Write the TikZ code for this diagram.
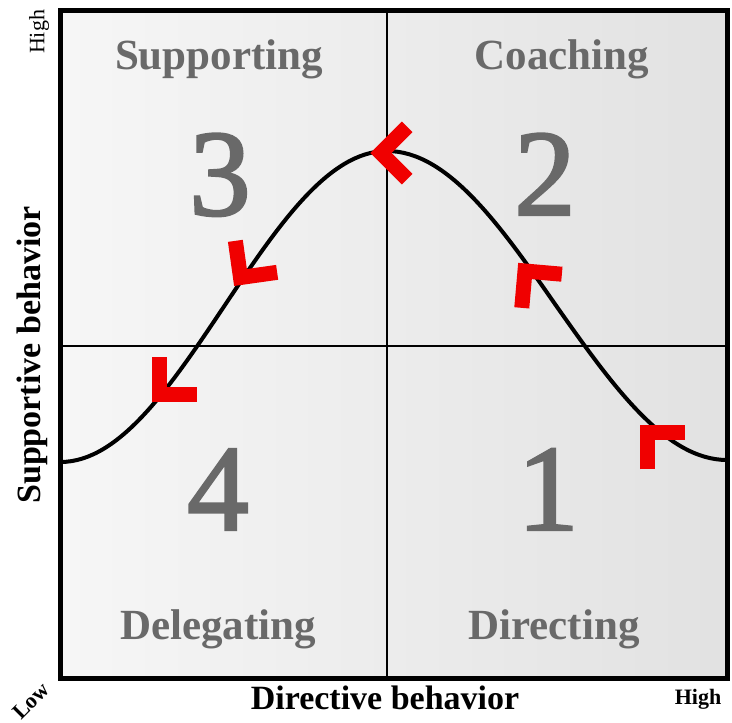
\documentclass[tikz,border=0pt]{standalone}
\usepackage{fontspec}
\setmainfont{Liberation Serif}
\newfontfamily\numfont[FakeBold=2]{Liberation Serif}
\usepackage{xcolor}
\usepackage{tikz}
\usetikzlibrary{positioning}
\definecolor{grisnum}{RGB}{105,105,105}
\definecolor{rojo}{RGB}{240,0,0}

\tikzset{
  cuadrante/.style={text=grisnum, font=\fontsize{43}{43}\selectfont\bfseries, anchor=base},
  numero/.style={text=grisnum, font=\fontsize{123}{123}\numfont, anchor=base},
  eje/.style={font=\fontsize{34}{34}\selectfont\bfseries},
  extremo/.style={font=\fontsize{22}{22}\selectfont},
  flecha/.style={rojo, line width=15pt, line join=miter},
  chevron/.pic={\draw[flecha] (135:37) -- (0,0) -- (-135:37);}
}

\begin{document}
\begin{tikzpicture}[x=1pt, y=1pt]
  \useasboundingbox (0,0) rectangle (732,723);

  % Esquinas y centro del cuadro
  \coordinate (so) at (60.5,44.5);
  \coordinate (ne) at (727,712.5);
  \coordinate (centro) at (387,377);

  % Fondo y ejes interiores
  \shade[left color=gray!7, right color=gray!23] (so) rectangle (ne);
  \draw[line width=2pt] (centro |- so) -- (centro |- ne);
  \draw[line width=2pt] (centro -| so) -- (centro -| ne);

  % Curva (puntos de inflexion y cima)
  \coordinate (izq) at (60.5,261);
  \coordinate (inf1) at (224,416.5);
  \coordinate (cima) at (387,572);
  \coordinate (inf2) at (556,417.5);
  \coordinate (der) at (727,263);
  \draw[line width=4pt] (izq) cos (inf1) sin (cima) cos (inf2) sin (der);

  % Marco
  \draw[line width=5pt] (so) rectangle (ne);

  % Flechas rojas (de 1 hacia 4)
  \pic[rotate=135] at (647.5,290.5) {chevron};
  \pic[rotate=130] at (525,452) {chevron};
  \pic[rotate=180] at (381,570) {chevron};
  \pic[rotate=233] at (240.5,445.5) {chevron};
  \pic[rotate=225] at (159.5,328.5) {chevron};

  % Nombres de los cuadrantes
  \node[cuadrante] (apoyo) at (219,653) {Supporting};
  \node[cuadrante] (entrena) at (562,653) {Coaching};
  \node[cuadrante] (delega) at (218,83) {Delegating};
  \node[cuadrante] (dirige) at (554,83) {Directing};

  % Numeros
  \node[numero] (n3) at (220,508) {3};
  \node[numero] (n2) at (545,508) {2};
  \node[numero] (n4) at (218,193) {4};
  \node[numero] (n1) at (548,193) {1};

  % Ejes
  \node[eje, rotate=90] (ejey) at (32,368) {Supportive behavior};
  \node[eje] (ejex) at (385,25) {Directive behavior};
  \node[extremo, rotate=90] (altoy) at (39,691) {High};
  \node[extremo, rotate=45, font=\fontsize{22}{22}\selectfont\bfseries] (bajo) at (31,22) {Low};
  \node[extremo, font=\fontsize{22}{22}\selectfont\bfseries] (altox) at (698,23.5) {High};
\end{tikzpicture}
\end{document}
